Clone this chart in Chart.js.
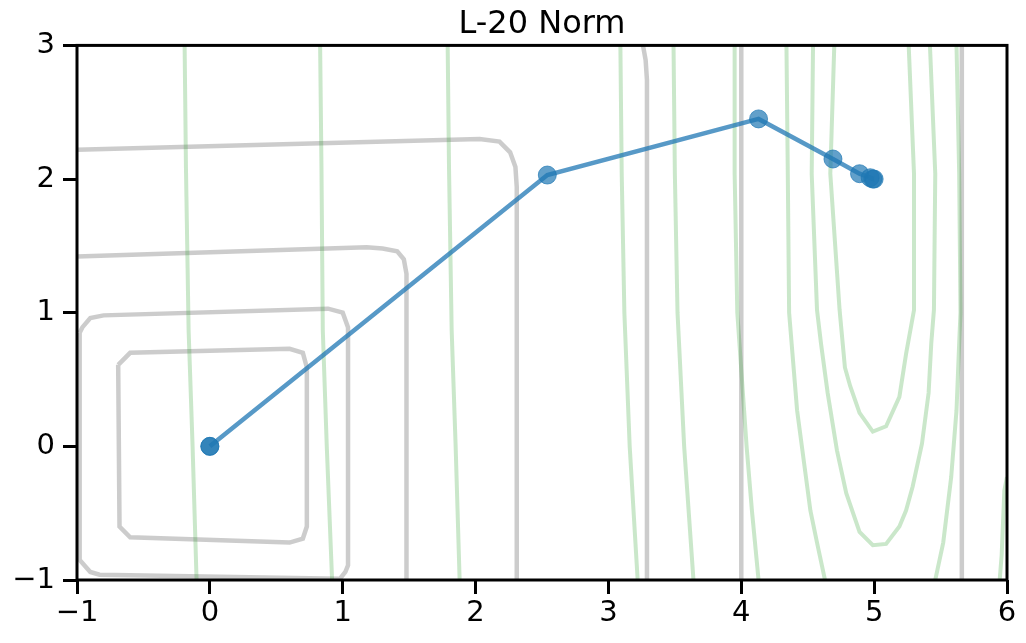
<!DOCTYPE html>
<html lang="en">
<head>
    <meta charset="UTF-8">
    <title>L-20 Norm</title>
    <script src="https://cdn.jsdelivr.net/npm/chart.js"></script>
    <style>
        body { margin: 0; background: #fff; }
        #wrap { width: 1026px; height: 643px; }
    </style>
</head>
<body>
    <div id="wrap"><canvas id="chartCanvas"></canvas></div>

    <script>
        // axis ticks
        var xTicks = [-1, 0, 1, 2, 3, 4, 5, 6];
        var yTicks = [-1, 0, 1, 2, 3];

        // optimisation path
        var pathX = [0, 0, 2.54, 4.13, 4.69, 4.89, 4.97, 4.99, 5.0];
        var pathY = [0, 0, 2.03, 2.45, 2.15, 2.04, 2.01, 2.0, 2.0];

        // L-20 norm level sets (grey)
        var norm1 = [[-0.69, 0.61], [-0.60, 0.70], [0.60, 0.73], [0.70, 0.70], [0.73, 0.59], [0.73, -0.60],
                     [0.70, -0.69], [0.60, -0.72], [-0.60, -0.68], [-0.68, -0.60], [-0.69, 0.61]];
        var norm2 = [[-0.98, 0.85], [-0.98, -0.85], [-0.90, -0.94], [-0.83, -0.96], [0.98, -0.99], [1.02, -0.94],
                     [1.04, -0.89], [1.04, 0.89], [1.00, 1.00], [0.89, 1.03], [-0.80, 0.98], [-0.90, 0.96],
                     [-0.96, 0.89], [-0.98, 0.85]];
        var norm3 = [[-1, 1.42], [1.18, 1.49], [1.30, 1.48], [1.41, 1.46], [1.46, 1.40], [1.48, 1.29], [1.48, -1]];
        var norm4 = [[-1, 2.22], [2.03, 2.30], [2.18, 2.28], [2.26, 2.20], [2.30, 2.09], [2.31, 1.94], [2.31, -1]];
        var norm5 = [[3.26, 3], [3.28, 2.89], [3.29, 2.74], [3.29, 2.54], [3.29, -1]];
        var norm6 = [[4.0, 3], [4.0, -1]];
        var norm7 = [[5.66, 3], [5.66, -1]];

        // loss level sets (green)
        var loss1 = [[-0.19, 3], [-0.18, 2.09], [-0.16, 0.87], [-0.13, 0], [-0.10, -1]];
        var loss2 = [[0.83, 3], [0.84, 2.09], [0.85, 0.87], [0.88, 0], [0.92, -1]];
        var loss3 = [[1.79, 3], [1.80, 2.09], [1.82, 0.87], [1.85, 0], [1.88, -1]];
        var loss4 = [[3.09, 3], [3.10, 2.04], [3.12, 1.0], [3.16, 0], [3.22, -1]];
        var loss5 = [[3.49, 3], [3.50, 2.04], [3.52, 1.0], [3.57, 0], [3.64, -1]];
        var loss6 = [[3.95, 3], [3.95, 2.04], [3.97, 1.0], [4.04, 0], [4.08, -0.48], [4.13, -1]];
        var loss6b = [[6.0, -0.23], [5.98, -0.33], [5.96, -0.81], [5.945, -1]];
        var loss7 = [[4.34, 3], [4.35, 2.04], [4.36, 1.0], [4.42, 0.27], [4.52, -0.48], [4.57, -0.72], [4.63, -1]];
        var loss7b = [[5.62, 3], [5.64, 2.04], [5.65, 1.0], [5.64, 0.77], [5.62, 0.27], [5.58, -0.23],
                      [5.52, -0.72], [5.46, -1]];
        var loss8 = [[4.54, 3], [4.53, 2.04], [4.57, 1.02], [4.60, 0.77], [4.65, 0.40], [4.72, -0.03],
                     [4.79, -0.35], [4.89, -0.64], [4.99, -0.74], [5.09, -0.73], [5.19, -0.60], [5.24, -0.48],
                     [5.29, -0.30], [5.36, 0.02], [5.41, 0.40], [5.43, 0.77], [5.45, 1.02], [5.46, 2.04], [5.42, 3]];
        var loss9 = [[4.70, 3], [4.67, 2.04], [4.74, 1.02], [4.78, 0.59], [4.82, 0.45], [4.89, 0.25],
                     [4.99, 0.11], [5.09, 0.15], [5.19, 0.37], [5.24, 0.69], [5.30, 1.02], [5.30, 2.04], [5.26, 3]];

        var normSets = [norm1, norm2, norm3, norm4, norm5, norm6, norm7];
        var lossSets = [loss1, loss2, loss3, loss4, loss5, loss6, loss6b, loss7, loss7b, loss8, loss9];

        function toPoints(arr) {
            return arr.map(function (p) { return { x: p[0], y: p[1] }; });
        }

        var datasets = [];
        datasets.push({
            data: pathX.map(function (x, i) { return { x: x, y: pathY[i] }; }),
            showLine: true,
            borderColor: 'rgba(31,119,180,0.75)',
            borderWidth: 4.5,
            pointRadius: 9,
            pointBackgroundColor: 'rgba(31,119,180,0.7)',
            pointBorderColor: 'rgba(31,119,180,0.7)',
            pointBorderWidth: 1,
            order: 0
        });
        lossSets.forEach(function (s) {
            datasets.push({
                data: toPoints(s), showLine: true, pointRadius: 0,
                borderColor: 'rgba(44,160,44,0.25)', borderWidth: 4, order: 1
            });
        });
        normSets.forEach(function (s) {
            datasets.push({
                data: toPoints(s), showLine: true, pointRadius: 0,
                borderColor: 'rgba(128,128,128,0.4)', borderWidth: 4.5, order: 2
            });
        });

        var framePlugin = {
            id: 'frame',
            afterDatasetsDraw: function (chart) {
                var a = chart.chartArea, c = chart.ctx;
                c.save();
                c.strokeStyle = '#000';
                c.lineWidth = 3;
                c.strokeRect(a.left, a.top, a.right - a.left, a.bottom - a.top);
                c.restore();
            }
        };

        function minusLabel(v) {
            return v < 0 ? '\u2212' + Math.abs(v) : String(v);
        }

        var tickFont = { family: 'DejaVu Sans', size: 29 };

        new Chart(document.getElementById('chartCanvas'), {
            type: 'scatter',
            data: { datasets: datasets },
            plugins: [framePlugin],
            options: {
                responsive: true,
                maintainAspectRatio: false,
                animation: false,
                devicePixelRatio: 1,
                layout: { padding: { left: 0, right: 19, top: 0, bottom: 0 } },
                plugins: {
                    legend: { display: false },
                    tooltip: { enabled: false },
                    title: {
                        display: true,
                        fullSize: false,
                        text: 'L-20 Norm',
                        color: '#000',
                        font: { family: 'DejaVu Sans', size: 32, weight: 'normal' },
                        padding: { top: 5, bottom: 2 }
                    }
                },
                scales: {
                    x: {
                        min: -1, max: 6,
                        afterFit: function (s) { s.height = 63; },
                        afterBuildTicks: function (s) { s.ticks = xTicks.map(function (v) { return { value: v }; }); },
                        border: { display: false },
                        grid: { drawOnChartArea: false, drawTicks: true, tickLength: 14, tickWidth: 3, tickColor: '#000' },
                        ticks: { color: '#000', font: tickFont, padding: 2, maxRotation: 0, callback: minusLabel }
                    },
                    y: {
                        min: -1, max: 3,
                        afterFit: function (s) { s.width = 77; },
                        afterBuildTicks: function (s) { s.ticks = yTicks.map(function (v) { return { value: v }; }); },
                        border: { display: false },
                        grid: { drawOnChartArea: false, drawTicks: true, tickLength: 14, tickWidth: 3, tickColor: '#000' },
                        ticks: { color: '#000', font: tickFont, padding: 8, callback: minusLabel }
                    }
                }
            }
        });
    </script>
</body>
</html>
